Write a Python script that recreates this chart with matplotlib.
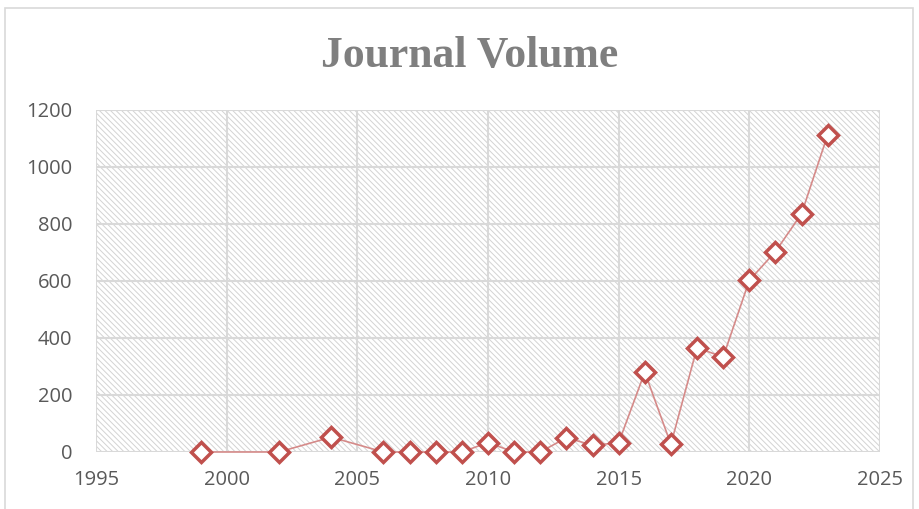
import matplotlib.pyplot as plt
from matplotlib.patches import Rectangle

# Data
years = [1999, 2002, 2004, 2006, 2007, 2008, 2009, 2010, 2011, 2012,
         2013, 2014, 2015, 2016, 2017, 2018, 2019, 2020, 2021, 2022, 2023]
volume = [0, 0, 52, 0, 0, 0, 0, 33, 0, 0,
          50, 24, 32, 280, 27, 366, 333, 602, 703, 836, 1113]
x_ticks = [1995, 2000, 2005, 2010, 2015, 2020, 2025]
y_ticks = [0, 200, 400, 600, 800, 1000, 1200]

plt.rcParams["hatch.linewidth"] = 0.7

fig = plt.figure(figsize=(9.19, 5.09), dpi=100)
ax = fig.add_axes([0.1045, 0.112, 0.853, 0.672])

# outer chart border
fig.patches.append(Rectangle((5 / 919, -0.05), 908 / 919, 1.05 - 8 / 509,
                             transform=fig.transFigure, fill=False,
                             edgecolor="#d9d9d9", linewidth=1.2))

# hatched plot area
ax.add_patch(Rectangle((0, 0), 1, 1, transform=ax.transAxes, facecolor="white",
                       edgecolor="#d3d3d3", hatch="\\\\\\\\\\\\", linewidth=0, zorder=0))

ax.plot(years, volume, color="#d58a89", linewidth=1.2, zorder=3, clip_on=False)
ax.plot(years, volume, linestyle="none", marker="D", markersize=10,
        markerfacecolor="white", markeredgecolor="#c0504d", markeredgewidth=2.5,
        zorder=4, clip_on=False)

ax.set_xlim(1995, 2025)
ax.set_ylim(0, 1200)
ax.set_xticks(x_ticks)
ax.set_yticks(y_ticks)
ax.grid(True, color="#d9d9d9", linewidth=1.5, zorder=1)
ax.set_axisbelow(True)
for s in ax.spines.values():
    s.set_visible(False)
ax.tick_params(length=0, labelsize=14.5, labelcolor="#595959")
ax.tick_params(axis="y", pad=17)
ax.tick_params(axis="x", pad=13)
for lbl in ax.get_xticklabels() + ax.get_yticklabels():
    lbl.set_family("Open Sans")

fig.text(0.511, 0.889, "Journal Volume", ha="center", va="center",
         fontsize=31.5, fontweight="bold", color="#7f7f7f", family="Liberation Serif")

fig.savefig("out.png", dpi=100)
